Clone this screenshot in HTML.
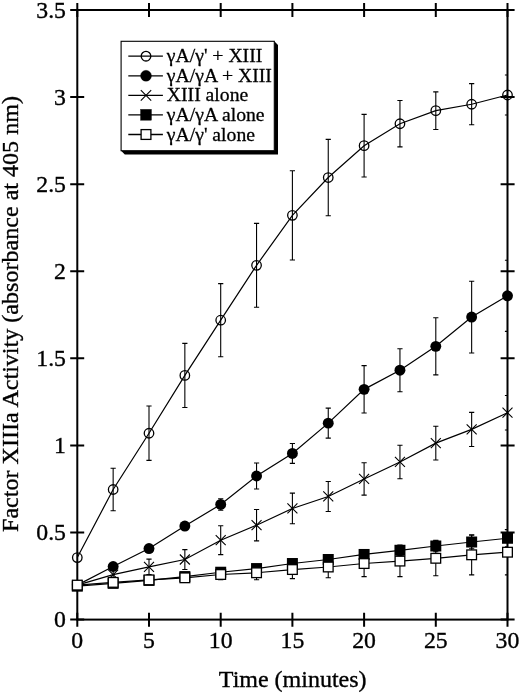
<!DOCTYPE html>
<html><head><meta charset="utf-8"><title>Factor XIIIa Activity</title>
<style>html,body{margin:0;padding:0;background:#fff}svg{display:block}</style></head>
<body>
<svg width="520" height="694" viewBox="0 0 520 694">
<rect width="520" height="694" fill="#fff"/>
<defs><clipPath id="cp"><rect x="69.30" y="10.00" width="438.40" height="609.60"/></clipPath></defs>
<rect x="77.30" y="10.00" width="430.20" height="609.60" fill="none" stroke="#000" stroke-width="2.00"/>
<path d="M77.30 612.70v14.0M77.30 2.90v14.0M149.00 612.70v14.0M149.00 2.90v14.0M220.70 612.70v14.0M220.70 2.90v14.0M292.40 612.70v14.0M292.40 2.90v14.0M364.10 612.70v14.0M364.10 2.90v14.0M435.80 612.70v14.0M435.80 2.90v14.0M507.50 612.70v14.0M507.50 2.90v14.0M70.20 619.60h14.0M500.60 619.60h14.0M70.20 532.51h14.0M500.60 532.51h14.0M70.20 445.43h14.0M500.60 445.43h14.0M70.20 358.34h14.0M500.60 358.34h14.0M70.20 271.26h14.0M500.60 271.26h14.0M70.20 184.17h14.0M500.60 184.17h14.0M70.20 97.09h14.0M500.60 97.09h14.0M70.20 10.00h14.0M500.60 10.00h14.0" stroke="#000" stroke-width="2.00" fill="none"/>
<path d="M113.15 569.44V579.89M110.55 569.44h5.2M110.55 579.89h5.2M149.00 559.16V574.49M146.40 559.16h5.2M146.40 574.49h5.2M184.85 549.58V569.44M182.25 549.58h5.2M182.25 569.44h5.2M220.70 525.72V554.63M218.10 525.72h5.2M218.10 554.63h5.2M256.55 509.52V540.87M253.95 509.52h5.2M253.95 540.87h5.2M292.40 493.15V523.81M289.80 493.15h5.2M289.80 523.81h5.2M328.25 481.48V511.44M325.65 481.48h5.2M325.65 511.44h5.2M364.10 462.76V495.15M361.50 462.76h5.2M361.50 495.15h5.2M399.95 445.25V478.70M397.35 445.25h5.2M397.35 478.70h5.2M435.80 426.27V460.06M433.20 426.27h5.2M433.20 460.06h5.2M471.65 412.34V446.47M469.05 412.34h5.2M469.05 446.47h5.2M507.50 395.44V429.93M504.90 395.44h5.2M504.90 429.93h5.2" stroke="#000" stroke-width="1.10" fill="none" clip-path="url(#cp)"/>
<polyline points="77.30,585.11 113.15,574.66 149.00,566.83 184.85,559.51 220.70,540.18 256.55,525.20 292.40,508.48 328.25,496.46 364.10,478.96 399.95,461.97 435.80,443.16 471.65,429.40 507.50,412.68" fill="none" stroke="#000" stroke-width="1.20"/>
<path d="M72.30 580.11l10 10M72.30 590.11l10 -10" stroke="#000" stroke-width="1.1"/>
<path d="M108.15 569.66l10 10M108.15 579.66l10 -10" stroke="#000" stroke-width="1.1"/>
<path d="M144.00 561.83l10 10M144.00 571.83l10 -10" stroke="#000" stroke-width="1.1"/>
<path d="M179.85 554.51l10 10M179.85 564.51l10 -10" stroke="#000" stroke-width="1.1"/>
<path d="M215.70 535.18l10 10M215.70 545.18l10 -10" stroke="#000" stroke-width="1.1"/>
<path d="M251.55 520.20l10 10M251.55 530.20l10 -10" stroke="#000" stroke-width="1.1"/>
<path d="M287.40 503.48l10 10M287.40 513.48l10 -10" stroke="#000" stroke-width="1.1"/>
<path d="M323.25 491.46l10 10M323.25 501.46l10 -10" stroke="#000" stroke-width="1.1"/>
<path d="M359.10 473.96l10 10M359.10 483.96l10 -10" stroke="#000" stroke-width="1.1"/>
<path d="M394.95 456.97l10 10M394.95 466.97l10 -10" stroke="#000" stroke-width="1.1"/>
<path d="M430.80 438.16l10 10M430.80 448.16l10 -10" stroke="#000" stroke-width="1.1"/>
<path d="M466.65 424.40l10 10M466.65 434.40l10 -10" stroke="#000" stroke-width="1.1"/>
<path d="M502.50 407.68l10 10M502.50 417.68l10 -10" stroke="#000" stroke-width="1.1"/>
<path d="M220.70 498.73V510.22M218.10 498.73h5.2M218.10 510.22h5.2M256.55 462.93V489.06M253.95 462.93h5.2M253.95 489.06h5.2M292.40 443.51V463.37M289.80 443.51h5.2M289.80 463.37h5.2M328.25 408.16V438.11M325.65 408.16h5.2M325.65 438.11h5.2M364.10 365.66V413.03M361.50 365.66h5.2M361.50 413.03h5.2M399.95 348.68V391.70M397.35 348.68h5.2M397.35 391.70h5.2M435.80 317.76V374.89M433.20 317.76h5.2M433.20 374.89h5.2M471.65 281.18V352.94M469.05 281.18h5.2M469.05 352.94h5.2M507.50 260.28V331.35M504.90 260.28h5.2M504.90 331.35h5.2" stroke="#000" stroke-width="1.10" fill="none" clip-path="url(#cp)"/>
<polyline points="77.30,585.11 113.15,566.48 149.00,548.54 184.85,526.07 220.70,504.47 256.55,476.00 292.40,453.44 328.25,423.13 364.10,389.35 399.95,370.19 435.80,346.33 471.65,317.06 507.50,295.82" fill="none" stroke="#000" stroke-width="1.20"/>
<circle cx="77.30" cy="585.11" r="5.45" fill="#000"/>
<circle cx="113.15" cy="566.48" r="5.45" fill="#000"/>
<circle cx="149.00" cy="548.54" r="5.45" fill="#000"/>
<circle cx="184.85" cy="526.07" r="5.45" fill="#000"/>
<circle cx="220.70" cy="504.47" r="5.45" fill="#000"/>
<circle cx="256.55" cy="476.00" r="5.45" fill="#000"/>
<circle cx="292.40" cy="453.44" r="5.45" fill="#000"/>
<circle cx="328.25" cy="423.13" r="5.45" fill="#000"/>
<circle cx="364.10" cy="389.35" r="5.45" fill="#000"/>
<circle cx="399.95" cy="370.19" r="5.45" fill="#000"/>
<circle cx="435.80" cy="346.33" r="5.45" fill="#000"/>
<circle cx="471.65" cy="317.06" r="5.45" fill="#000"/>
<circle cx="507.50" cy="295.82" r="5.45" fill="#000"/>
<path d="M113.15 468.25V510.74M110.55 468.25h5.2M110.55 510.74h5.2M149.00 406.07V460.41M146.40 406.07h5.2M146.40 460.41h5.2M184.85 343.36V407.46M182.25 343.36h5.2M182.25 407.46h5.2M220.70 283.62V356.78M218.10 283.62h5.2M218.10 356.78h5.2M256.55 223.36V307.31M253.95 223.36h5.2M253.95 307.31h5.2M292.40 170.76V259.94M289.80 170.76h5.2M289.80 259.94h5.2M328.25 139.41V215.70M325.65 139.41h5.2M325.65 215.70h5.2M364.10 114.33V177.03M361.50 114.33h5.2M361.50 177.03h5.2M399.95 100.57V146.90M397.35 100.57h5.2M397.35 146.90h5.2M435.80 91.86V129.48M433.20 91.86h5.2M433.20 129.48h5.2M471.65 83.67V124.78M469.05 83.67h5.2M469.05 124.78h5.2M507.50 74.97V115.03M504.90 74.97h5.2M504.90 115.03h5.2" stroke="#000" stroke-width="1.10" fill="none" clip-path="url(#cp)"/>
<polyline points="77.30,557.59 113.15,489.49 149.00,433.24 184.85,375.41 220.70,320.20 256.55,265.34 292.40,215.35 328.25,177.55 364.10,145.68 399.95,123.73 435.80,110.67 471.65,104.23 507.50,95.00" fill="none" stroke="#000" stroke-width="1.20"/>
<circle cx="77.30" cy="557.59" r="4.75" fill="none" stroke="#000" stroke-width="1.3"/>
<circle cx="113.15" cy="489.49" r="4.75" fill="none" stroke="#000" stroke-width="1.3"/>
<circle cx="149.00" cy="433.24" r="4.75" fill="none" stroke="#000" stroke-width="1.3"/>
<circle cx="184.85" cy="375.41" r="4.75" fill="none" stroke="#000" stroke-width="1.3"/>
<circle cx="220.70" cy="320.20" r="4.75" fill="none" stroke="#000" stroke-width="1.3"/>
<circle cx="256.55" cy="265.34" r="4.75" fill="none" stroke="#000" stroke-width="1.3"/>
<circle cx="292.40" cy="215.35" r="4.75" fill="none" stroke="#000" stroke-width="1.3"/>
<circle cx="328.25" cy="177.55" r="4.75" fill="none" stroke="#000" stroke-width="1.3"/>
<circle cx="364.10" cy="145.68" r="4.75" fill="none" stroke="#000" stroke-width="1.3"/>
<circle cx="399.95" cy="123.73" r="4.75" fill="none" stroke="#000" stroke-width="1.3"/>
<circle cx="435.80" cy="110.67" r="4.75" fill="none" stroke="#000" stroke-width="1.3"/>
<circle cx="471.65" cy="104.23" r="4.75" fill="none" stroke="#000" stroke-width="1.3"/>
<circle cx="507.50" cy="95.00" r="4.75" fill="none" stroke="#000" stroke-width="1.3"/>
<path d="M77.30 582.68V589.64M74.70 582.68h5.2M74.70 589.64h5.2M113.15 579.89V586.86M110.55 579.89h5.2M110.55 586.86h5.2M149.00 576.93V583.89M146.40 576.93h5.2M146.40 583.89h5.2M184.85 573.10V580.06M182.25 573.10h5.2M182.25 580.06h5.2M220.70 568.74V575.71M218.10 568.74h5.2M218.10 575.71h5.2M256.55 565.08V572.05M253.95 565.08h5.2M253.95 572.05h5.2M292.40 560.03V567.00M289.80 560.03h5.2M289.80 567.00h5.2M328.25 556.03V562.99M325.65 556.03h5.2M325.65 562.99h5.2M364.10 550.11V558.81M361.50 550.11h5.2M361.50 558.81h5.2M399.95 545.05V555.50M397.35 545.05h5.2M397.35 555.50h5.2M435.80 540.25V551.74M433.20 540.25h5.2M433.20 551.74h5.2M471.65 535.21V548.80M469.05 535.21h5.2M469.05 548.80h5.2M507.50 529.73V546.80M504.90 529.73h5.2M504.90 546.80h5.2" stroke="#000" stroke-width="1.10" fill="none" clip-path="url(#cp)"/>
<polyline points="77.30,586.16 113.15,583.37 149.00,580.41 184.85,576.58 220.70,572.23 256.55,568.57 292.40,563.52 328.25,559.51 364.10,554.46 399.95,550.28 435.80,546.00 471.65,542.01 507.50,538.26" fill="none" stroke="#000" stroke-width="1.20"/>
<rect x="71.80" y="580.66" width="11" height="11" fill="#000"/>
<rect x="107.65" y="577.87" width="11" height="11" fill="#000"/>
<rect x="143.50" y="574.91" width="11" height="11" fill="#000"/>
<rect x="179.35" y="571.08" width="11" height="11" fill="#000"/>
<rect x="215.20" y="566.73" width="11" height="11" fill="#000"/>
<rect x="251.05" y="563.07" width="11" height="11" fill="#000"/>
<rect x="286.90" y="558.02" width="11" height="11" fill="#000"/>
<rect x="322.75" y="554.01" width="11" height="11" fill="#000"/>
<rect x="358.60" y="548.96" width="11" height="11" fill="#000"/>
<rect x="394.45" y="544.78" width="11" height="11" fill="#000"/>
<rect x="430.30" y="540.50" width="11" height="11" fill="#000"/>
<rect x="466.15" y="536.51" width="11" height="11" fill="#000"/>
<rect x="502.00" y="532.76" width="11" height="11" fill="#000"/>
<path d="M77.30 580.76V589.47M74.70 580.76h5.2M74.70 589.47h5.2M113.15 578.03V586.73M110.55 578.03h5.2M110.55 586.73h5.2M149.00 575.53V584.24M146.40 575.53h5.2M146.40 584.24h5.2M184.85 573.44V582.15M182.25 573.44h5.2M182.25 582.15h5.2M220.70 569.26V579.71M218.10 569.26h5.2M218.10 579.71h5.2M256.55 565.78V579.71M253.95 565.78h5.2M253.95 579.71h5.2M292.40 560.47V578.58M289.80 560.47h5.2M289.80 578.58h5.2M328.25 556.20V577.80M325.65 556.20h5.2M325.65 577.80h5.2M364.10 550.45V576.58M361.50 550.45h5.2M361.50 576.58h5.2M399.95 545.58V576.58M397.35 545.58h5.2M397.35 576.58h5.2M435.80 540.87V575.71M433.20 540.87h5.2M433.20 575.71h5.2M471.65 534.78V574.84M469.05 534.78h5.2M469.05 574.84h5.2M507.50 529.55V574.84M504.90 529.55h5.2M504.90 574.84h5.2" stroke="#000" stroke-width="1.10" fill="none" clip-path="url(#cp)"/>
<polyline points="77.30,585.11 113.15,582.38 149.00,579.89 184.85,577.80 220.70,574.49 256.55,572.75 292.40,569.53 328.25,567.00 364.10,563.52 399.95,561.08 435.80,558.29 471.65,554.81 507.50,552.20" fill="none" stroke="#000" stroke-width="1.20"/>
<rect x="72.45" y="580.26" width="9.7" height="9.7" fill="#fff" stroke="#000" stroke-width="1.3"/>
<rect x="108.30" y="577.53" width="9.7" height="9.7" fill="#fff" stroke="#000" stroke-width="1.3"/>
<rect x="144.15" y="575.04" width="9.7" height="9.7" fill="#fff" stroke="#000" stroke-width="1.3"/>
<rect x="180.00" y="572.95" width="9.7" height="9.7" fill="#fff" stroke="#000" stroke-width="1.3"/>
<rect x="215.85" y="569.64" width="9.7" height="9.7" fill="#fff" stroke="#000" stroke-width="1.3"/>
<rect x="251.70" y="567.90" width="9.7" height="9.7" fill="#fff" stroke="#000" stroke-width="1.3"/>
<rect x="287.55" y="564.68" width="9.7" height="9.7" fill="#fff" stroke="#000" stroke-width="1.3"/>
<rect x="323.40" y="562.15" width="9.7" height="9.7" fill="#fff" stroke="#000" stroke-width="1.3"/>
<rect x="359.25" y="558.67" width="9.7" height="9.7" fill="#fff" stroke="#000" stroke-width="1.3"/>
<rect x="395.10" y="556.23" width="9.7" height="9.7" fill="#fff" stroke="#000" stroke-width="1.3"/>
<rect x="430.95" y="553.44" width="9.7" height="9.7" fill="#fff" stroke="#000" stroke-width="1.3"/>
<rect x="466.80" y="549.96" width="9.7" height="9.7" fill="#fff" stroke="#000" stroke-width="1.3"/>
<rect x="502.65" y="547.35" width="9.7" height="9.7" fill="#fff" stroke="#000" stroke-width="1.3"/>
<g font-family="'Liberation Serif', serif" font-size="24.0" fill="#000" stroke="#000" stroke-width="0.35">
<text transform="translate(77.30 648.20) scale(0.990 1.000)" text-anchor="middle">0</text>
<text transform="translate(149.00 648.20) scale(0.990 1.000)" text-anchor="middle">5</text>
<text transform="translate(220.70 648.20) scale(0.990 1.000)" text-anchor="middle">10</text>
<text transform="translate(292.40 648.20) scale(0.990 1.000)" text-anchor="middle">15</text>
<text transform="translate(364.10 648.20) scale(0.990 1.000)" text-anchor="middle">20</text>
<text transform="translate(435.80 648.20) scale(0.990 1.000)" text-anchor="middle">25</text>
<text transform="translate(507.50 648.20) scale(0.990 1.000)" text-anchor="middle">30</text>
<text transform="translate(66.00 627.10) scale(0.990 1.000)" text-anchor="end">0</text>
<text transform="translate(66.00 540.01) scale(0.990 1.000)" text-anchor="end">0.5</text>
<text transform="translate(66.00 452.93) scale(0.990 1.000)" text-anchor="end">1</text>
<text transform="translate(66.00 365.84) scale(0.990 1.000)" text-anchor="end">1.5</text>
<text transform="translate(66.00 278.76) scale(0.990 1.000)" text-anchor="end">2</text>
<text transform="translate(66.00 191.67) scale(0.990 1.000)" text-anchor="end">2.5</text>
<text transform="translate(66.00 104.59) scale(0.990 1.000)" text-anchor="end">3</text>
<text transform="translate(66.00 17.50) scale(0.990 1.000)" text-anchor="end">3.5</text>
<text transform="translate(292.70 687.30) scale(1.000 1.000)" text-anchor="middle">Time (minutes)</text>
<text transform="translate(18.30 314.00) rotate(-90) scale(1.004 1.000)" text-anchor="middle">Factor XIIIa Activity (absorbance at 405 nm)</text>
</g>
<path d="M274.30 41.30L278.00 45.00L278.00 154.40L124.80 154.40L121.10 150.70L274.30 150.70Z" fill="#000"/>
<rect x="121.10" y="41.30" width="153.20" height="109.40" fill="#fff" stroke="#000" stroke-width="1.1"/>
<g font-family="'Liberation Serif', serif" font-size="20" fill="#000" stroke="#000" stroke-width="0.3">
<path d="M128.3 56.20H162.9" stroke="#000" stroke-width="1.3"/>
<circle cx="146.00" cy="56.20" r="4.8" fill="none" stroke="#000" stroke-width="1.3"/>
<text transform="translate(166.80 62.10) scale(0.985 0.900)" text-anchor="start">γA/γ' + XIII</text>
<path d="M128.3 75.80H162.9" stroke="#000" stroke-width="1.3"/>
<circle cx="146.00" cy="75.80" r="5.5" fill="#000"/>
<text transform="translate(166.80 81.70) scale(0.985 0.900)" text-anchor="start">γA/γA + XIII</text>
<path d="M128.3 95.40H162.9" stroke="#000" stroke-width="1.3"/>
<path d="M140.80 90.20l10.4 10.4M140.80 100.60l10.4 -10.4" stroke="#000" stroke-width="1.1"/>
<text transform="translate(166.80 101.30) scale(0.985 0.900)" text-anchor="start">XIII alone</text>
<path d="M128.3 114.80H162.9" stroke="#000" stroke-width="1.3"/>
<rect x="140.50" y="109.30" width="11" height="11" fill="#000"/>
<text transform="translate(166.80 120.90) scale(0.985 0.900)" text-anchor="start">γA/γA alone</text>
<path d="M128.3 134.50H162.9" stroke="#000" stroke-width="1.3"/>
<rect x="141.10" y="129.60" width="9.8" height="9.8" fill="#fff" stroke="#000" stroke-width="1.3"/>
<text transform="translate(166.80 140.50) scale(0.985 0.900)" text-anchor="start">γA/γ' alone</text>
</g>
</svg>
</body></html>
